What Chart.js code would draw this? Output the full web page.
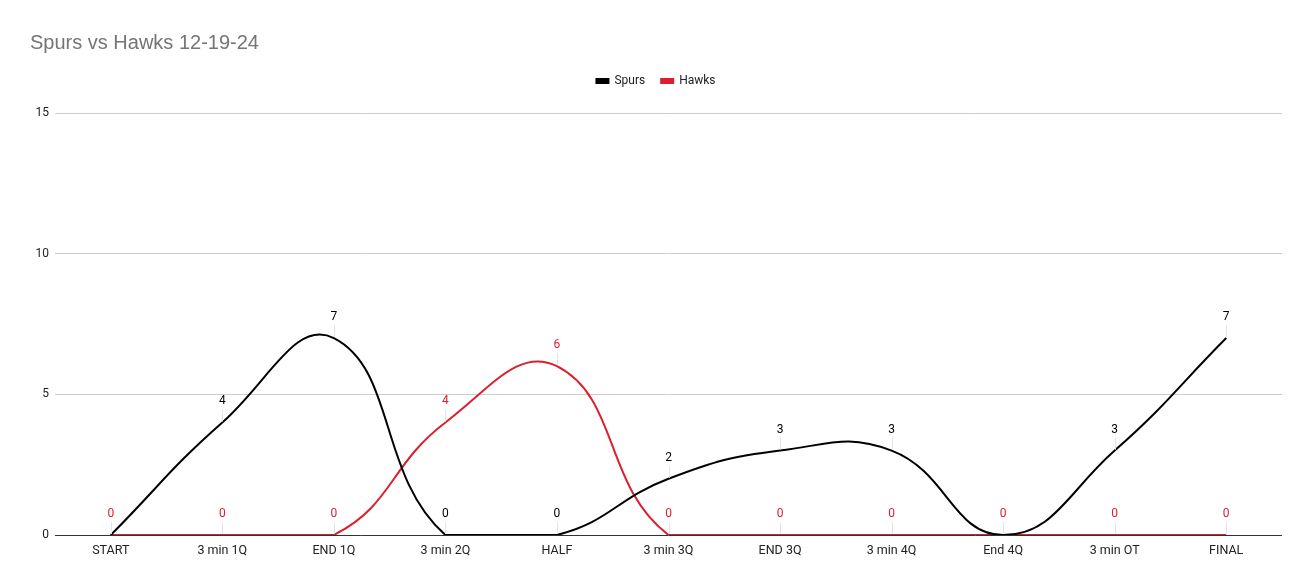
<!DOCTYPE html>
<html>
<head>
<meta charset="utf-8">
<script src="https://cdn.jsdelivr.net/npm/chart.js@4"></script>
<style>
  html, body { margin: 0; padding: 0; background: #fff; }
  #wrap { width: 1311px; height: 585px; }
</style>
</head>
<body>
<div id="wrap"><canvas id="myChart" width="1311" height="585"></canvas></div>
<script>
'use strict';

// chart data
const categories = ['START', '3 min 1Q', 'END 1Q', '3 min 2Q', 'HALF', '3 min 3Q', 'END 3Q', '3 min 4Q', 'End 4Q', '3 min OT', 'FINAL'];
const spurs = [0, 4, 7, 0, 0, 2, 3, 3, 0, 3, 7];
const hawks = [0, 0, 0, 4, 6, 0, 0, 0, 0, 0, 0];
const yTicks = [0, 5, 10, 15];

const spursColor = '#000000';
const hawksColor = '#d9202e';

// draws the value above each point with a thin leader line
const pointLabels = {
  id: 'pointLabels',
  afterDatasetsDraw: function (chart) {
    const ctx = chart.ctx;
    const sets = chart.data.datasets;
    ctx.save();
    ctx.font = '12px Roboto, Arial, sans-serif';
    ctx.textAlign = 'center';
    ctx.textBaseline = 'middle';
    sets.forEach(function (ds, i) {
      const meta = chart.getDatasetMeta(i);
      meta.data.forEach(function (pt, j) {
        // a later series with the same value hides this label
        for (let k = i + 1; k < sets.length; k++) {
          if (sets[k].data[j] === ds.data[j]) return;
        }
        ctx.strokeStyle = '#e4e4e4';
        ctx.lineWidth = 1;
        ctx.beginPath();
        ctx.moveTo(Math.round(pt.x) + 0.5, pt.y - 1);
        ctx.lineTo(Math.round(pt.x) + 0.5, pt.y - 13);
        ctx.stroke();
        ctx.fillStyle = ds.borderColor;
        ctx.fillText(String(ds.data[j]), pt.x, pt.y - 21);
      });
    });
    ctx.restore();
  }
};

// extra space under the legend
const legendGap = {
  id: 'legendGap',
  beforeInit: function (chart) {
    const origFit = chart.legend.fit;
    chart.legend.fit = function () {
      origFit.call(this);
      this.height += 16;
    };
  }
};

const ctx = document.getElementById('myChart');
const myChart = new Chart(ctx, {
  type: 'line',
  data: {
    labels: categories,
    datasets: [{
      label: 'Spurs',
      data: spurs,
      borderColor: spursColor,
      backgroundColor: spursColor,
      borderWidth: 2,
      pointRadius: 0,
      tension: 0.45
    }, {
      label: 'Hawks',
      data: hawks,
      borderColor: hawksColor,
      backgroundColor: hawksColor,
      borderWidth: 2,
      pointRadius: 0,
      tension: 0.45
    }]
  },
  options: {
    responsive: false,
    animation: false,
    layout: { padding: { left: 30, right: 29, top: 18, bottom: 19 } },
    plugins: {
      title: {
        display: true,
        text: 'Spurs vs Hawks 12-19-24',
        align: 'start',
        color: '#757575',
        font: { family: 'Arial, "Liberation Sans", sans-serif', size: 20, weight: 'normal' },
        padding: { top: 13, bottom: 4 }
      },
      legend: {
        display: true,
        labels: {
          boxWidth: 12,
          boxHeight: 4,
          color: '#222',
          font: { family: 'Roboto, Arial, sans-serif', size: 12 },
          padding: 16
        }
      },
      tooltip: { enabled: false }
    },
    scales: {
      x: {
        offset: true,
        grid: { display: false, drawTicks: false },
        border: { display: false },
        ticks: { color: '#222', font: { family: 'Roboto, Arial, sans-serif', size: 12.5 }, padding: 8, maxRotation: 0 }
      },
      y: {
        min: 0,
        max: 15,
        afterBuildTicks: function (axis) {
          axis.ticks = yTicks.map(function (v) { return { value: v }; });
        },
        afterFit: function (axis) {
          axis.width = 25;
        },
        grid: {
          color: function (c) { return c.tick.value === 0 ? '#333333' : '#cccccc'; },
          drawTicks: false
        },
        border: { display: false },
        ticks: { color: '#222', font: { family: 'Roboto, Arial, sans-serif', size: 12 }, padding: 6 }
      }
    }
  },
  plugins: [pointLabels, legendGap]
});
</script>
</body>
</html>
